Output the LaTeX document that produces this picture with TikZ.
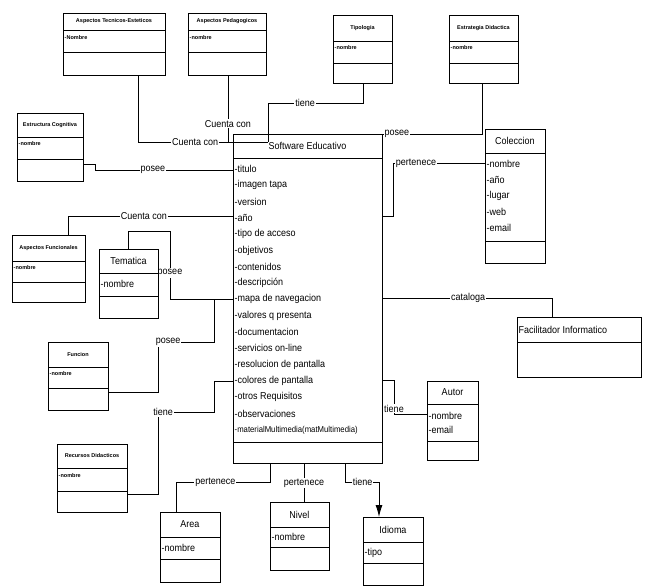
\documentclass[tikz,border=0pt]{standalone}
\usepackage{fontspec}
\setmainfont{Liberation Sans}
\newfontfamily\umlfont[FakeStretch=0.9]{Liberation Sans}
\newfontfamily\umltiny{Liberation Sans}
\usetikzlibrary{arrows.meta,calc}

\tikzset{
	classbox/.style={draw=black, line width=0.9pt, inner sep=0pt, outer sep=0pt},
	classline/.style={line width=0.9pt},
	classtitle/.style={font=\umlfont\fontsize{10}{11}\selectfont, inner sep=0pt},
	tinytitle/.style={font=\umltiny\bfseries\fontsize{5.5}{6}\selectfont, inner sep=0pt},
	attr/.style={anchor=west, inner sep=0.5pt, font=\umlfont\fontsize{10}{11}\selectfont},
	tinyattr/.style={anchor=west, inner sep=0.5pt, font=\umltiny\bfseries\fontsize{5.5}{6}\selectfont},
	rel/.style={fill=white, inner sep=1pt, font=\umlfont\fontsize{10}{11}\selectfont},
	conn/.style={line width=0.9pt}
}

% #1 title style, #2 name, #3 left, #4 top, #5 right, #6 title line, #7 attr line, #8 bottom, #9 title
\newcommand{\umlclass}[9]{%
	\pgfmathsetmacro{\clsw}{#5-#3}%
	\pgfmathsetmacro{\clsh}{#8-#4}%
	\node[classbox, minimum width=\clsw pt, minimum height=\clsh pt] (#2) at ({(#3+#5)/2},{(#4+#8)/2}) {};
	\draw[classline] (#3,#6) -- (#5,#6) (#3,#7) -- (#5,#7);
	\node[#1] (#2-title) at ({(#3+#5)/2},{(#4+#6)/2}) {#9};
}

\begin{document}
\begin{tikzpicture}[x=1pt, y=-1pt]
	\useasboundingbox[fill=white] (0,0) rectangle (649,587);

	\coordinate (tec-s) at (138,75);
	\coordinate (ped-s) at (228,75);
	\coordinate (ped-j) at (228,142);
	\coordinate (tip-s) at (363,83);
	\coordinate (est-s) at (482,83);
	\coordinate (cog-e) at (83,164);
	\coordinate (fun-n) at (68,235);
	\coordinate (tem-n) at (128,249);
	\coordinate (fn-e) at (108,392);
	\coordinate (rec-e) at (127,494);
	\coordinate (se-hook) at (268,142);
	\coordinate (se-n2) at (307,134);
	\coordinate (se-w2) at (233,170);
	\coordinate (se-w3) at (233,216);
	\coordinate (se-w4) at (233,299);
	\coordinate (se-w5) at (233,381);
	\coordinate (se-e1) at (382,216);
	\coordinate (se-e2) at (382,298);
	\coordinate (se-e3) at (382,380);
	\coordinate (se-s1) at (270,463);
	\coordinate (se-s2) at (304,463);
	\coordinate (se-s3) at (345,463);
	\coordinate (col-w) at (485,163);
	\coordinate (fac-n) at (552,317);
	\coordinate (aut-w) at (427,414);
	\coordinate (area-n) at (176,512);
	\coordinate (niv-n) at (304,502);
	\coordinate (idi-n) at (379,517);

	% connectors
	\draw[conn] (tec-s) |- node[rel,pos=0.72] (l-tec) {Cuenta con} (se-hook);
	\draw[conn] (ped-s) -- node[rel,pos=0.73] (l-ped) {Cuenta con} (ped-j);
	\draw[conn] (tip-s) |- node[rel,pos=0.805] (l-tip) {tiene} (268,103) -- (se-hook);
	\draw[conn] (est-s) |- node[rel,pos=0.743] (l-est) {posee} (se-n2);
	\draw[conn] (cog-e) -- (95,164) |- node[rel,pos=0.71] (l-cog) {posee} (se-w2);
	\draw[conn] (fun-n) |- node[rel,pos=0.73] (l-fun) {Cuenta con} (se-w3);
	\draw[conn] (tem-n) |- (170,231) -- node[rel,pos=0.62] (l-tem) {posee} (170,299) -- (se-w4);
	\draw[conn] (fn-e) -| (158,342) -- node[rel,pos=0.18] (l-fn) {posee} (214,342) |- (se-w4);
	\draw[conn] (rec-e) -| (158,412) -- node[rel,pos=0.09] (l-rec) {tiene} (214,412) |- (se-w5);
	\draw[conn] (se-e1) -- (393,216) |- node[rel,pos=0.625] (l-col) {pertenece} (col-w);
	\draw[conn] (se-e2) -| node[rel,pos=0.253] (l-fac) {cataloga} (fac-n);
	\draw[conn] (se-e3) -| node[rel,pos=0.92] (l-aut) {tiene} (394,414) -- (aut-w);
	\draw[conn] (se-s1) |- node[rel,pos=0.79] (l-area) {pertenece} (176,482) -- (area-n);
	\draw[conn] (se-s2) -- node[rel,pos=0.51] (l-niv) {pertenece} (niv-n);
	\draw[conn,-{Latex[length=12pt,width=7pt]}] (se-s3) |- node[rel,pos=0.76] (l-idi) {tiene} (379,482) -- (idi-n);

	% small classes
	\umlclass{tinytitle}{tec}{63}{13}{165}{30}{52}{75}{Aspectos Tecnicos-Esteticos}
	\node[tinyattr] (tec-a1) at (64,38) {-Nombre};
	\umlclass{tinytitle}{ped}{188}{13}{266}{30}{52}{75}{Aspectos Pedagogicos}
	\node[tinyattr] (ped-a1) at (189,38) {-nombre};
	\umlclass{tinytitle}{tip}{333}{15}{392}{41}{63}{83}{Tipologia}
	\node[tinyattr] (tip-a1) at (334,48) {-nombre};
	\umlclass{tinytitle}{est}{449}{15}{518}{41}{63}{83}{Estrategia Didactica}
	\node[tinyattr] (est-a1) at (450,48) {-nombre};
	\umlclass{tinytitle}{cog}{17}{113}{83}{137}{159}{181}{Estructura Cognitiva}
	\node[tinyattr] (cog-a1) at (18,144) {-nombre};
	\umlclass{tinytitle}{fun}{12}{235}{85}{261}{282}{302}{Aspectos Funcionales}
	\node[tinyattr] (fun-a1) at (13,268) {-nombre};
	\umlclass{tinytitle}{fn}{48}{342}{108}{367}{388}{410}{Funcion}
	\node[tinyattr] (fn-a1) at (49,374) {-nombre};
	\umlclass{tinytitle}{rec}{57}{444}{127}{468}{491}{512}{Recursos Didacticos}
	\node[tinyattr] (rec-a1) at (58,476) {-nombre};

	% Software Educativo
	\umlclass{classtitle}{se}{233}{134}{382}{158}{442}{463}{Software Educativo}
	\foreach \txt [count=\i] in {titulo,imagen tapa,version,año,tipo de acceso,objetivos,contenidos,descripción,mapa de navegacion,valores q presenta,documentacion,servicios on-line,resolucion de pantalla,colores de pantalla,otros Requisitos,observaciones}
		\node[attr] (se-a\i) at (234,{169+16.3*(\i-1)}) {-\txt};
	\node[attr, font=\umlfont\fontsize{8.6}{10}\selectfont] (se-a17) at (234,430) {-materialMultimedia(matMultimedia)};

	% other classes
	\umlclass{classtitle}{tem}{99}{249}{158}{273}{296}{318}{Tematica}
	\node[attr] (tem-a1) at (100,284) {-nombre};
	\umlclass{classtitle}{col}{485}{129}{545}{153}{241}{263}{Coleccion}
	\foreach \txt [count=\i] in {nombre,año,lugar,web,email}
		\node[attr] (col-a\i) at (486,{164+16*(\i-1)}) {-\txt};
	\umlclass{classtitle}{aut}{427}{381}{478}{404}{441}{460}{Autor}
	\node[attr] (aut-a1) at (428,416) {-nombre};
	\node[attr] (aut-a2) at (428,430) {-email};
	\umlclass{classtitle}{area}{160}{512}{220}{537}{559}{582}{Area}
	\node[attr] (area-a1) at (161,548) {-nombre};
	\umlclass{classtitle}{niv}{270}{502}{329}{527}{547}{570}{Nivel}
	\node[attr] (niv-a1) at (271,537) {-nombre};
	\umlclass{classtitle}{idi}{363}{517}{423}{542}{563}{585}{Idioma}
	\node[attr] (idi-a1) at (364,553) {-tipo};

	\node[classbox, minimum width=124pt, minimum height=60pt] (fac) at (579,347) {};
	\draw[classline] (517,342) -- (641,342);
	\node[attr] (fac-title) at (518,330) {Facilitador Informatico};
\end{tikzpicture}
\end{document}
